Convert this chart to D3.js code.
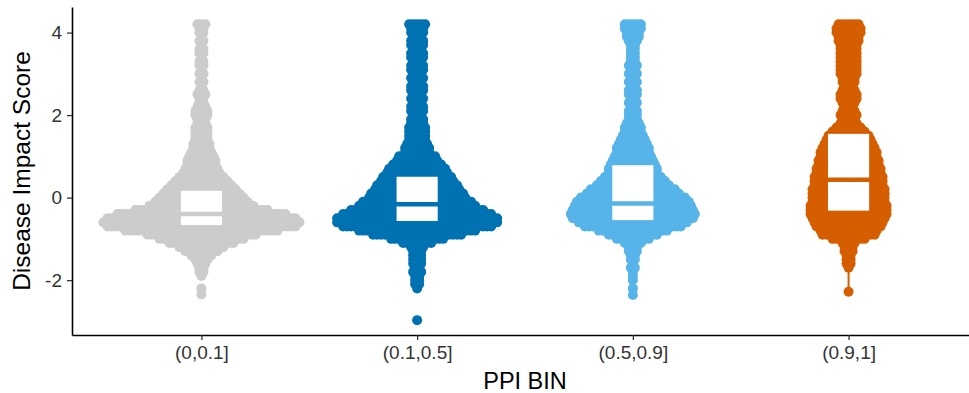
<!DOCTYPE html>
<html><head><meta charset="utf-8">
<script src="https://cdn.jsdelivr.net/npm/d3@7"></script>
<style>body{margin:0;background:#fff}svg{display:block}</style>
</head><body>
<svg id="chart" width="969" height="393"></svg>
<script>
// ---- data ----
const categories = ["(0,0.1]", "(0.1,0.5]", "(0.5,0.9]", "(0.9,1]"];
const colors = ["#cccccc", "#0072B2", "#56B4E9", "#D55E00"];
const yTicks = [-2, 0, 2, 4];
const xTitle = "PPI BIN";
const yTitle = "Disease Impact Score";

// score levels (binned Disease Impact Score values)
const scoreLevels = [4.2, 4.1, 4.0, 3.9, 3.8, 3.7, 3.6, 3.5, 3.4, 3.3, 3.2, 3.1, 3.0, 2.9, 2.8, 2.7, 2.6, 2.5, 2.4, 2.3, 2.2, 2.1, 2.0, 1.9, 1.8, 1.7, 1.6, 1.5, 1.4, 1.3, 1.2, 1.1, 1.0, 0.9, 0.8, 0.7, 0.6, 0.5, 0.4, 0.3, 0.2, 0.1, 0.0, -0.1, -0.2, -0.3, -0.4, -0.5, -0.6, -0.7, -0.8, -0.9, -1.0, -1.1, -1.2, -1.3, -1.4, -1.5, -1.6, -1.7, -1.8, -1.9, -2.0, -2.1, -2.2];

// number of genes at each score level, per PPI bin
const countsBin1 = [3, 2, 2, 1, 2, 1, 2, 2, 1, 2, 2, 1, 2, 1, 2, 1, 2, 3, 2, 2, 3, 4, 4, 3, 3, 4, 4, 4, 4, 5, 5, 6, 7, 8, 8, 9, 10, 12, 14, 16, 18, 20, 22, 24, 27, 34, 43, 48, 50, 48, 39, 28, 22, 17, 12, 9, 6, 4, 3, 2, 2, 1, 0, 0, 1];
const countsBin2 = [5, 4, 4, 3, 4, 4, 3, 4, 4, 3, 4, 4, 3, 4, 3, 4, 4, 3, 4, 3, 4, 4, 3, 4, 4, 5, 5, 5, 5, 6, 7, 7, 10, 11, 13, 15, 16, 18, 19, 21, 22, 24, 25, 28, 30, 34, 38, 41, 41, 38, 30, 23, 14, 8, 4, 3, 3, 3, 3, 2, 3, 2, 2, 2, 1];
const countsBin3 = [5, 5, 4, 4, 3, 2, 2, 2, 2, 2, 3, 2, 3, 2, 3, 2, 3, 3, 2, 3, 2, 3, 3, 3, 4, 5, 5, 6, 7, 8, 9, 9, 10, 11, 12, 13, 13, 15, 17, 19, 22, 24, 27, 29, 30, 31, 32, 31, 28, 25, 18, 13, 9, 5, 3, 3, 2, 2, 1, 2, 1, 1, 1, 0, 1];
const countsBin4 = [6, 7, 7, 6, 6, 5, 5, 5, 5, 5, 5, 5, 5, 4, 4, 3, 4, 5, 5, 4, 3, 4, 5, 4, 5, 7, 9, 11, 12, 13, 14, 15, 15, 16, 16, 17, 17, 18, 18, 18, 19, 19, 19, 19, 20, 20, 20, 19, 18, 17, 15, 14, 9, 4, 3, 3, 2, 2, 2, 1, 0, 0, 0, 0, 0];
// isolated low values
const lowBin1 = [-2.35];
const lowBin2 = [-2.97];
const lowBin3 = [-2.36];
const lowBin4 = [-2.28];

// boxplot statistics
const q1 = [-0.69, -0.59, -0.57, -0.34];
const median = [-0.40, -0.16, -0.14, 0.43];
const q3 = [0.19, 0.53, 0.81, 1.57];
const whiskerLow = [-1.9, -2.2, -2.36, -2.28];
const whiskerHigh = [1.5, 2.2, 2.8, 4.2];

const yDomain = [-3.33, 4.62];

// ---- drawing ----
const countsList = [countsBin1, countsBin2, countsBin3, countsBin4];
const lowList = [lowBin1, lowBin2, lowBin3, lowBin4];

const svg = d3.select("#chart");
const panel = {left: 72, right: 978, top: 7, bottom: 335};

const x = d3.scalePoint().domain(categories).range([panel.left, panel.right]).padding(0.6);
const y = d3.scaleLinear().domain(yDomain).range([panel.bottom, panel.top]);

const ptR = 5, spacing = 4;
const pts = [];
categories.forEach((c, i) => {
  scoreLevels.forEach((v, j) => {
    const n = countsList[i][j];
    for (let k = 0; k < n; k++) pts.push({cat: c, v: v, off: (k - (n - 1) / 2) * spacing, color: colors[i]});
  });
  lowList[i].forEach(v => pts.push({cat: c, v: v, off: 0, color: colors[i]}));
});

svg.append("g").selectAll("circle").data(pts).join("circle")
  .attr("cx", d => x(d.cat) + d.off)
  .attr("cy", d => y(d.v))
  .attr("r", ptR)
  .attr("fill", d => d.color);

const boxW = x.step() * 0.2;
const boxes = categories.map((c, i) => ({cat: c, color: colors[i], q1: q1[i], med: median[i], q3: q3[i], lo: whiskerLow[i], hi: whiskerHigh[i]}));
const bg = svg.append("g").selectAll("g").data(boxes).join("g");
bg.append("line").attr("x1", d => x(d.cat)).attr("x2", d => x(d.cat))
  .attr("y1", d => y(d.q3)).attr("y2", d => y(d.hi)).attr("stroke", d => d.color).attr("stroke-width", 2);
bg.append("line").attr("x1", d => x(d.cat)).attr("x2", d => x(d.cat))
  .attr("y1", d => y(d.q1)).attr("y2", d => y(d.lo)).attr("stroke", d => d.color).attr("stroke-width", 2);
bg.append("rect").attr("x", d => x(d.cat) - boxW / 2).attr("width", boxW)
  .attr("y", d => y(d.q3)).attr("height", d => y(d.q1) - y(d.q3))
  .attr("fill", "#fff").attr("stroke", d => d.color).attr("stroke-width", 2);
bg.append("line").attr("x1", d => x(d.cat) - boxW / 2).attr("x2", d => x(d.cat) + boxW / 2)
  .attr("y1", d => y(d.med)).attr("y2", d => y(d.med)).attr("stroke", d => d.color).attr("stroke-width", 4.5);

const font = "'Liberation Sans', Arial, Helvetica, sans-serif";
const xAxis = svg.append("g").attr("transform", `translate(0,${panel.bottom})`)
  .call(d3.axisBottom(x).tickSize(5).tickSizeOuter(0).tickPadding(6));
const yAxis = svg.append("g").attr("transform", `translate(${panel.left},0)`)
  .call(d3.axisLeft(y).tickValues(yTicks).tickFormat(d3.format("d")).tickSize(5).tickSizeOuter(0).tickPadding(5));
[xAxis, yAxis].forEach(a => {
  a.select(".domain").attr("stroke", "#000").attr("stroke-width", 1.6);
  a.selectAll(".tick line").attr("stroke", "#333").attr("stroke-width", 1.3);
  a.selectAll(".tick text").attr("fill", "#333").style("font-family", font).style("font-size", "19px");
});
yAxis.selectAll(".tick text").text(d => d < 0 ? "-" + Math.abs(d) : d);

svg.append("text").attr("x", (panel.left + panel.right) / 2).attr("y", 389)
  .attr("text-anchor", "middle").style("font-family", font).style("font-size", "23.5px").attr("fill", "#000").text(xTitle);
svg.append("text").attr("transform", `translate(30,${(panel.top + panel.bottom) / 2}) rotate(-90)`)
  .attr("text-anchor", "middle").style("font-family", font).style("font-size", "24.5px").attr("fill", "#000").text(yTitle);
</script>
</body></html>
